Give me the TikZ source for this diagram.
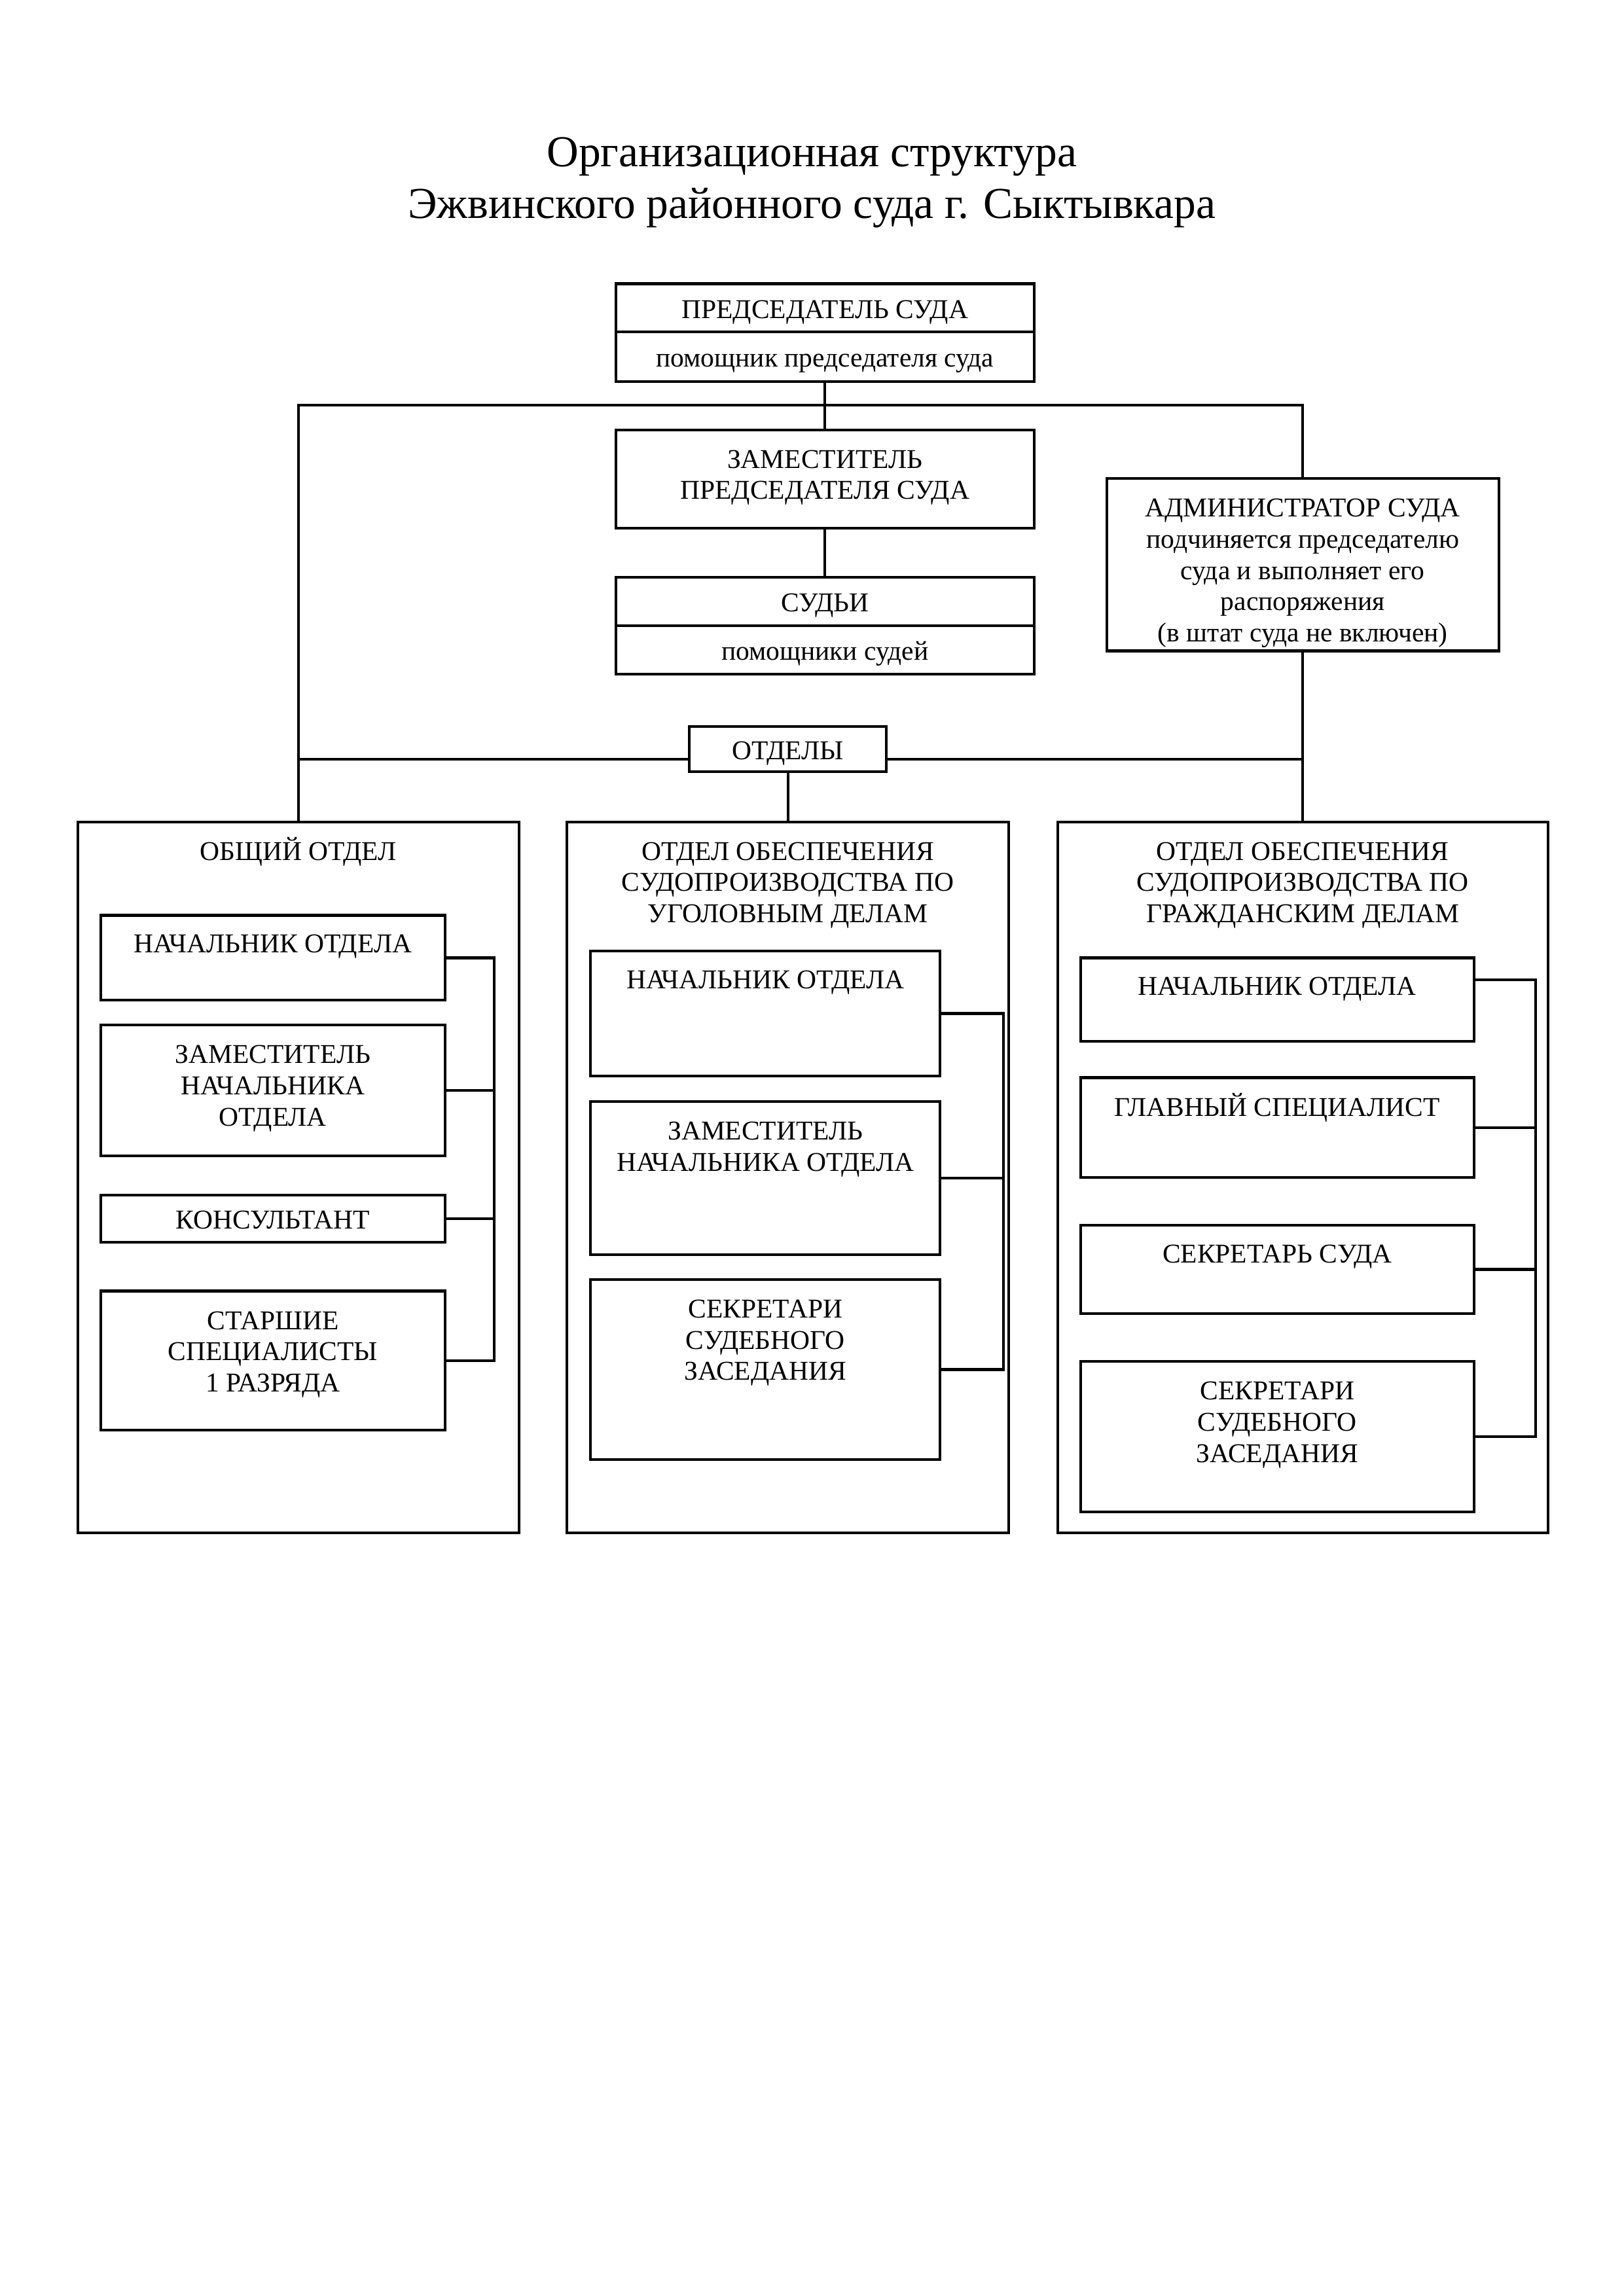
\documentclass[tikz,border=0pt]{standalone}
\usepackage{fontspec}
\setmainfont{Liberation Serif}
\usetikzlibrary{positioning}
\begin{document}
\begin{tikzpicture}[line width=1pt,
  box/.style={draw, inner sep=0pt, outer sep=0pt, align=center,
    font=\fontsize{10}{11.5}\selectfont},
  ctr/.style={text height=7.6pt, text depth=0pt},
  tx/.style={anchor=north, yshift=-0.185cm, inner sep=0pt, align=center,
    font=\fontsize{10}{11.5}\selectfont, execute at begin node=\strut},
  txm/.style={tx, yshift=-0.06cm},
  ]
\useasboundingbox (0,0) rectangle (21,-29.7);
\node[anchor=north, inner sep=0pt, align=center, font=\fontsize{16.25}{19}\selectfont] (title) at (10.5,-1.76)
  {Организационная структура\\Эжвинского районного суда г. Сыктывкара};

% руководство
\node[box, ctr, anchor=north, minimum width=5.41cm, minimum height=0.624cm] (chair) at (10.67,-3.67) {ПРЕДСЕДАТЕЛЬ СУДА};
\node[box, ctr, below=0pt of chair, minimum width=5.41cm, minimum height=0.643cm] (chairhelp) {помощник председателя суда};
\node[box, anchor=north, minimum width=5.41cm, minimum height=1.27cm,
  label={[txm]north:ЗАМЕСТИТЕЛЬ\\ПРЕДСЕДАТЕЛЯ СУДА}] (deputy) at (10.67,-5.56) {};
\node[box, ctr, anchor=north, minimum width=5.41cm, minimum height=0.624cm] (judges) at (10.67,-7.47) {СУДЬИ};
\node[box, ctr, below=0pt of judges, minimum width=5.41cm, minimum height=0.624cm] (judgeshelp) {помощники судей};
\node[box, anchor=north, minimum width=5.07cm, minimum height=2.23cm,
  label={[txm]north:АДМИНИСТРАТОР СУДА\\подчиняется председателю\\суда и выполняет его\\распоряжения\\(в штат суда не включен)}] (admin) at (16.85,-6.19) {};
\node[box, ctr, minimum width=2.55cm, minimum height=0.59cm] (depts) at (10.19,-9.69) {ОТДЕЛЫ};

% отделы
\node[box, anchor=north, minimum width=5.71cm, minimum height=9.2cm,
  label={[tx]north:ОБЩИЙ ОТДЕЛ}] (dgen) at (3.86,-10.63) {};
\node[box, anchor=north, minimum width=5.71cm, minimum height=9.2cm,
  label={[txm]north:ОТДЕЛ ОБЕСПЕЧЕНИЯ\\СУДОПРОИЗВОДСТВА ПО\\УГОЛОВНЫМ ДЕЛАМ}] (dcrim) at (10.19,-10.63) {};
\node[box, anchor=north, minimum width=6.34cm, minimum height=9.2cm,
  label={[txm]north:ОТДЕЛ ОБЕСПЕЧЕНИЯ\\СУДОПРОИЗВОДСТВА ПО\\ГРАЖДАНСКИМ ДЕЛАМ}] (dciv) at (16.85,-10.63) {};

% общий отдел
\node[box, anchor=north, minimum width=4.45cm, minimum height=1.1cm,
  label={[tx]north:НАЧАЛЬНИК ОТДЕЛА}] (g1) at (3.53,-11.84) {};
\node[box, anchor=north, minimum width=4.45cm, minimum height=1.69cm,
  label={[txm]north:ЗАМЕСТИТЕЛЬ\\НАЧАЛЬНИКА\\ОТДЕЛА}] (g2) at (3.53,-13.26) {};
\node[box, ctr, anchor=north, minimum width=4.45cm, minimum height=0.61cm] (g3) at (3.53,-15.46) {КОНСУЛЬТАНТ};
\node[box, anchor=north, minimum width=4.45cm, minimum height=1.8cm,
  label={[txm]north:СТАРШИЕ\\СПЕЦИАЛИСТЫ\\1 РАЗРЯДА}] (g4) at (3.53,-16.7) {};

% уголовные дела
\node[box, anchor=north, minimum width=4.52cm, minimum height=1.62cm,
  label={[tx]north:НАЧАЛЬНИК ОТДЕЛА}] (c1) at (9.9,-12.3) {};
\node[box, anchor=north, minimum width=4.52cm, minimum height=1.98cm,
  label={[txm]north:ЗАМЕСТИТЕЛЬ\\НАЧАЛЬНИКА ОТДЕЛА}] (c2) at (9.9,-14.25) {};
\node[box, anchor=north, minimum width=4.52cm, minimum height=2.33cm,
  label={[txm]north:СЕКРЕТАРИ\\СУДЕБНОГО\\ЗАСЕДАНИЯ}] (c3) at (9.9,-16.55) {};

% гражданские дела
\node[box, anchor=north, minimum width=5.09cm, minimum height=1.08cm,
  label={[tx]north:НАЧАЛЬНИК ОТДЕЛА}] (v1) at (16.52,-12.39) {};
\node[box, anchor=north, minimum width=5.09cm, minimum height=1.29cm,
  label={[tx]north:ГЛАВНЫЙ СПЕЦИАЛИСТ}] (v2) at (16.52,-13.94) {};
\node[box, anchor=north, minimum width=5.09cm, minimum height=1.14cm,
  label={[tx]north:СЕКРЕТАРЬ СУДА}] (v3) at (16.52,-15.85) {};
\node[box, anchor=north, minimum width=5.09cm, minimum height=1.95cm,
  label={[txm]north:СЕКРЕТАРИ\\СУДЕБНОГО\\ЗАСЕДАНИЯ}] (v4) at (16.52,-17.61) {};

% связи
\coordinate (top) at (10.67,-5.24);
\coordinate (dline) at (0,-9.82);
\coordinate (gb) at (6.39,0);
\coordinate (cb) at (12.98,0);
\coordinate (vb) at (19.86,0);
\draw (chairhelp.south) -- (deputy.north);
\draw (deputy.south) -- (judges.north);
\draw (dgen.north) -- (dgen.north |- top) -| (admin.north);
\draw (admin.south) -- (dciv.north);
\draw (dgen.north |- dline) -- (depts.west |- dline);
\draw (depts.east |- dline) -- (dciv.north |- dline);
\draw (depts.south) -- (dcrim.north);

\draw (g1.east) -| (gb |- g4.east) -- (g4.east);
\foreach \n in {g2,g3} \draw (\n.east) -- (gb |- \n.east);
\draw (c1.east) -| (cb |- c3.east) -- (c3.east);
\draw (c2.east) -- (cb |- c2.east);
\draw ([yshift=0.255cm]v1.east) -| (vb |- v4.east) -- (v4.east);
\foreach \n in {v2,v3} \draw (\n.east) -- (vb |- \n.east);
\end{tikzpicture}
\end{document}
